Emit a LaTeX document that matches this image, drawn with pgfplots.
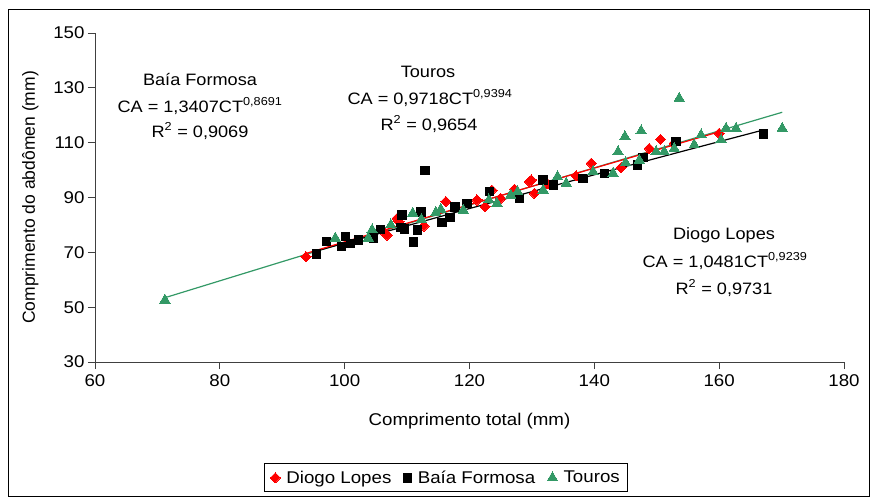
\documentclass[border=0pt]{standalone}
\usepackage{fontspec}
\setmainfont{Liberation Sans}[FakeStretch=1.1]
\newfontfamily\plainfont{Liberation Sans}
\usepackage{pgfplots}
\pgfplotsset{compat=1.18}
\definecolor{touros}{RGB}{51,153,102}
\definecolor{diogo}{RGB}{255,0,0}

\begin{document}
\begin{tikzpicture}[x=1pt,y=1pt]
\useasboundingbox (0,0) rectangle (872,-497);
\draw[line width=0.8pt] (8,-9) rectangle (869,-496);
\begin{axis}[
  at={(95pt,-362pt)}, anchor=south west,
  width=749pt, height=329pt, scale only axis,
  xmin=60, xmax=180, ymin=30, ymax=150,
  xtick={60,80,...,180}, ytick={30,50,...,150},
  axis x line=bottom, axis y line=left,
  axis line style={-, line width=0.8pt, black!75},
  tick style={black!75, line width=0.8pt},
  tick align=outside, major tick length=7pt,
  /pgf/number format/assume math mode=true,
  ticklabel style={font=\fontsize{17}{20}\selectfont},
  xticklabel style={yshift=-2pt},
  xlabel={Comprimento total (mm)},
  ylabel={\plainfont Comprimento do abdômen (mm)},
  label style={font=\fontsize{17}{20}\selectfont},
  xlabel style={yshift=-20pt},
  ylabel style={font=\fontsize{17.5}{20}\selectfont, yshift=8pt},
  clip=false,
  legend columns=3,
  legend style={at={(0.4686,-0.352)}, anchor=center, draw=black,
    line width=0.8pt, font=\fontsize{17}{20}\selectfont,
    inner xsep=6pt, inner ysep=5pt,
    /tikz/every odd column/.append style={column sep=4pt},
    /tikz/every even column/.append style={column sep=10pt}},
  legend cell align=left,
]
% Diogo Lopes
\addplot[only marks, mark=square*, mark size=3.6pt, color=diogo,
  mark options={rotate=45, line width=0pt}] coordinates {
  (93.8,68.4) (106.6,76.7) (106.8,76.3) (108.4,82.4) (108.7,81.2)
  (112.7,79.6) (116.2,88.5) (121.2,89.1) (122.5,86.7) (123.6,92.7)
  (125.0,89.7) (127.2,93.0) (129.6,95.8) (129.9,96.4) (130.4,91.5)
  (132.5,95.0) (137.1,97.9) (139.5,102.5) (144.3,100.9) (148.8,107.9)
  (150.6,111.2) (152.8,109.8) (160.0,113.4)
};
\addlegendentry{Diogo Lopes}
% Baía Formosa
\addplot[only marks, mark=square*, mark size=4.2pt, color=black,
  mark options={line width=0pt}] coordinates {
  (95.5,69.4) (97.1,73.9) (99.5,72.1) (100.1,75.7) (100.9,73.3)
  (102.2,74.5) (104.6,75.2) (105.7,78.4) (109.0,79.0) (109.2,83.6)
  (109.6,78.5) (111.0,73.7) (111.7,78.2) (112.2,84.7) (112.9,99.8)
  (115.6,80.8) (116.9,82.6) (117.7,86.6) (119.6,87.9) (123.2,92.1)
  (128.0,89.7) (131.8,96.4) (133.5,94.6) (138.2,97.0) (141.6,98.8)
  (146.9,101.9) (147.8,104.6) (153.1,110.4) (167.1,113.2)
};
\addlegendentry{Baía Formosa}
% Touros
\addplot[only marks, mark=triangle*, mark size=6pt, color=touros,
  mark options={line width=0pt}] coordinates {
  (71.2,52.6) (98.5,75.2) (103.8,75.2) (104.4,78.2) (107.4,80.0)
  (110.9,84.3) (112.3,82.0) (114.6,84.5) (115.4,85.7) (119.0,85.4)
  (123.1,89.1) (124.4,87.9) (126.6,90.9) (127.7,92.1) (131.8,92.7)
  (134.1,97.6) (135.5,95.2) (139.8,99.4) (143.0,98.8) (143.8,106.7)
  (144.9,112.2) (145.0,102.7) (147.2,103.6) (147.5,114.3) (149.9,106.7)
  (151.2,106.7) (152.8,107.9) (153.6,126.2) (156.0,109.2) (157.1,112.8)
  (160.3,111.0) (161.1,115.2) (162.7,115.2) (170.1,115.2)
};
\addlegendentry{Touros}
% power trend lines
\addplot[forget plot, touros, line width=1.2pt] coordinates {
  (71.2,53.45) (90,66.60) (100,73.53) (110,80.42) (130,94.07) (150,107.59) (170.1,121.09)
};
\addplot[forget plot, black, line width=1.2pt] coordinates {
  (95.5,70.49) (110,79.71) (120,85.98) (140,98.29) (155,107.39) (167.1,114.64)
};
\addplot[forget plot, diogo, line width=1.2pt] coordinates {
  (93.8,69.59) (110,80.62) (120,87.39) (140,100.73) (160,113.96)
};
\end{axis}
\begin{scope}[every node/.style={font=\fontsize{16.5}{19}\selectfont, anchor=center, inner sep=0pt}]
\node at (200,-80) {Baía Formosa};
\node at (200,-106) {CA = 1,3407CT\textsuperscript{0,8691}};
\node at (200,-131) {R\textsuperscript{2} = 0,9069};
\node at (428,-72) {Touros};
\node at (430,-98) {CA = 0,9718CT\textsuperscript{0,9394}};
\node at (429,-124) {R\textsuperscript{2} = 0,9654};
\node at (724,-235) {Diogo Lopes};
\node at (725,-261) {CA = 1,0481CT\textsuperscript{0,9239}};
\node at (724,-288) {R\textsuperscript{2} = 0,9731};
\end{scope}
\end{tikzpicture}
\end{document}
